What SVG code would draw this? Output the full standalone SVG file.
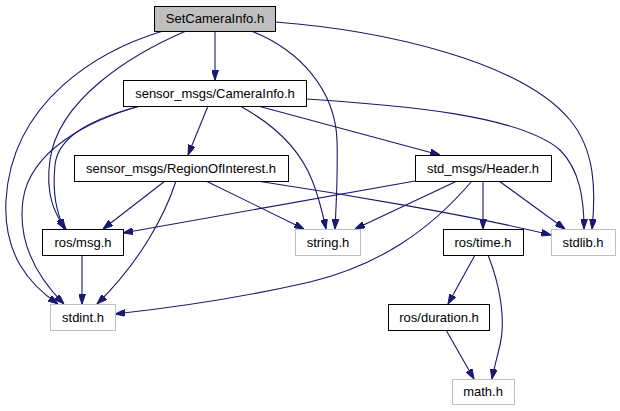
<svg xmlns="http://www.w3.org/2000/svg" width="620" height="411" viewBox="0 0 620 411">
<style>
.n rect{fill:#fff;stroke:#000;stroke-width:1}
.n.g rect{stroke:#bfbfbf}
.n.root rect{fill:#bfbfbf}
.n text{font-family:"Liberation Sans",Arial,sans-serif;font-size:13px;text-anchor:middle;fill:#000}
.e path{fill:none;stroke:#191970;stroke-width:1.1;marker-end:url(#a)}
</style>
<defs>
<marker id="a" markerUnits="userSpaceOnUse" markerWidth="10" markerHeight="7" refX="10" refY="3.5" orient="auto">
<path d="M0,0 L10,3.5 L0,7 z" fill="#191970" stroke="#191970"/>
</marker>
</defs>
<rect width="620" height="411" fill="#fff"/>
<g class="e" id="edges">
<path d="M215,31 L215,80"/>
<path d="M163,31 C100,50 12,100 6,200 C3,255 30,285 58,304"/>
<path d="M186,31 C130,55 58,100 50,160 C45,195 55,215 66,229"/>
<path d="M251,31 C300,50 335,90 337,140 C338,180 336,205 335,229"/>
<path d="M275,22 C380,30 520,60 570,120 C595,150 596,190 592,229"/>
<path d="M208,106 L188,155"/>
<path d="M140,106 C95,118 58,135 55,165 C52,195 57,212 64,229"/>
<path d="M140,106 C90,120 30,150 23,200 C17,245 40,280 64,304"/>
<path d="M240,106 C275,125 300,150 312,180 C318,195 322,210 326,229"/>
<path d="M258,106 L440,155"/>
<path d="M306,99 C400,105 520,115 560,150 C580,170 584,200 584,229"/>
<path d="M165,181 L103,229"/>
<path d="M176,181 C165,215 140,262 97,304"/>
<path d="M206,181 L304,229"/>
<path d="M257,181 C330,192 470,215 551,235"/>
<path d="M415,181 L123,233"/>
<path d="M457,181 L355,229"/>
<path d="M472,181 C430,230 380,265 310,282 C240,298 170,308 115,314"/>
<path d="M483,181 L483,229"/>
<path d="M499,181 L565,229"/>
<path d="M82,255 L82,304"/>
<path d="M475,255 L448,304"/>
<path d="M488,255 C500,285 506,320 500,345 C497,358 494,368 492,379"/>
<path d="M446,330 L474,379"/>
</g>
<g class="n root" id="n_SetCameraInfo"><rect x="154.5" y="6.5" width="121" height="25"/><text x="215" y="23">SetCameraInfo.h</text></g>
<g class="n" id="n_CameraInfo"><rect x="123.5" y="80.5" width="183" height="26"/><text x="215" y="98">sensor_msgs/CameraInfo.h</text></g>
<g class="n" id="n_RegionOfInterest"><rect x="74.5" y="155.5" width="214" height="26"/><text x="181" y="173">sensor_msgs/RegionOfInterest.h</text></g>
<g class="n" id="n_Header"><rect x="415.5" y="155.5" width="136" height="26"/><text x="483" y="173">std_msgs/Header.h</text></g>
<g class="n" id="n_msg"><rect x="42.5" y="229.5" width="81" height="26"/><text x="83" y="247">ros/msg.h</text></g>
<g class="n g" id="n_string"><rect x="295.5" y="229.5" width="65" height="26"/><text x="328" y="247">string.h</text></g>
<g class="n" id="n_time"><rect x="443.5" y="229.5" width="80" height="26"/><text x="483" y="247">ros/time.h</text></g>
<g class="n g" id="n_stdlib"><rect x="551.5" y="229.5" width="64" height="26"/><text x="583" y="247">stdlib.h</text></g>
<g class="n g" id="n_stdint"><rect x="50.5" y="304.5" width="65" height="26"/><text x="83" y="322">stdint.h</text></g>
<g class="n" id="n_duration"><rect x="388.5" y="304.5" width="101" height="26"/><text x="439" y="322">ros/duration.h</text></g>
<g class="n g" id="n_math"><rect x="452.5" y="379.5" width="62" height="25"/><text x="483" y="396">math.h</text></g>
</svg>
